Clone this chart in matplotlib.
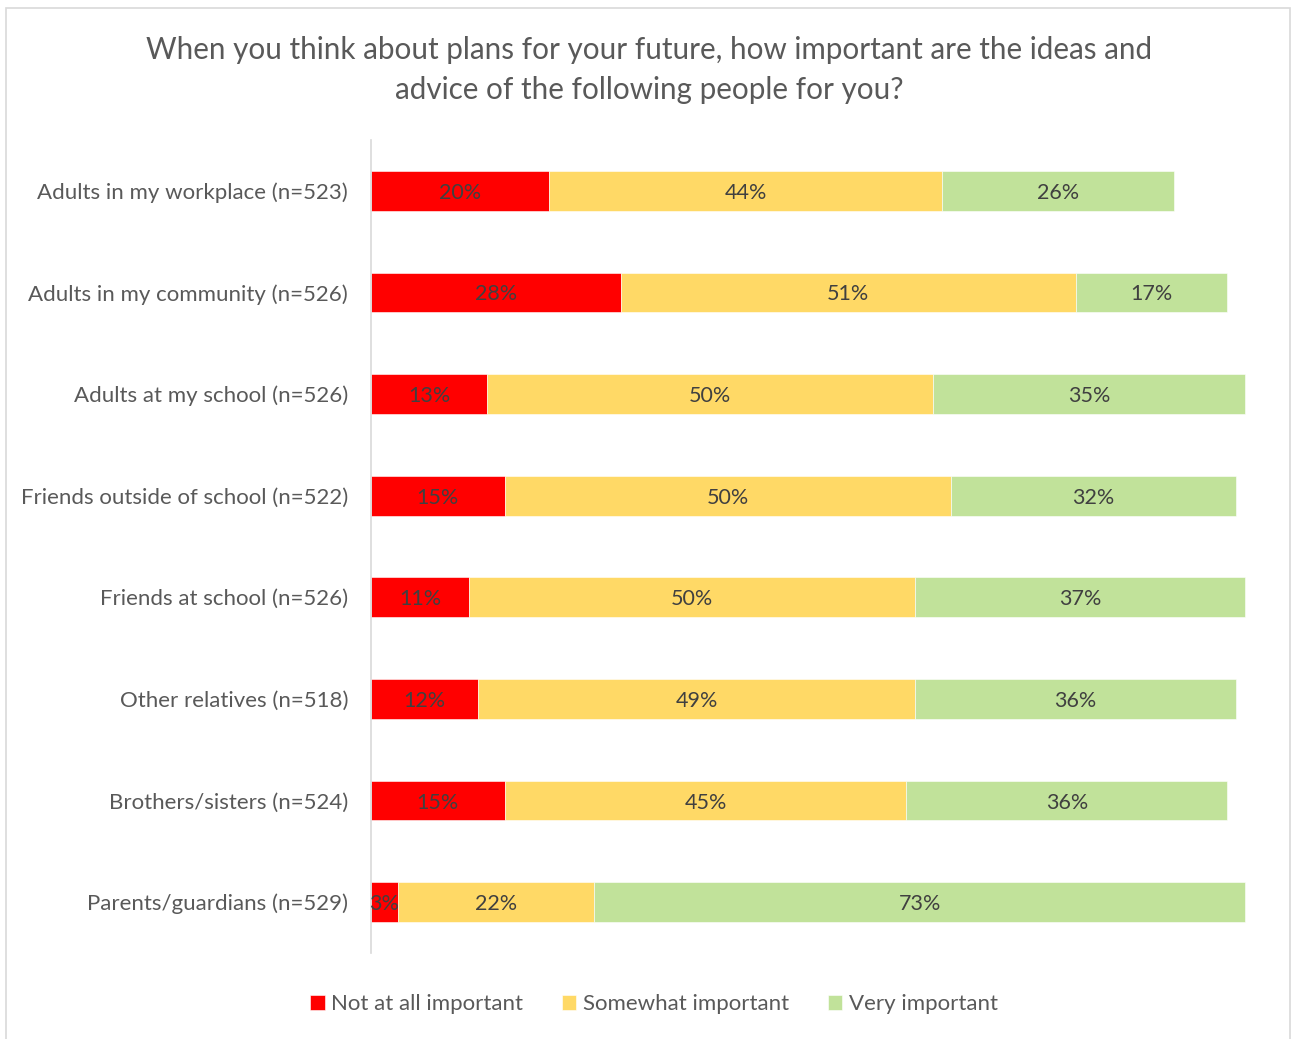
import matplotlib
matplotlib.use("Agg")
import matplotlib.pyplot as plt
from matplotlib.patches import Rectangle
import numpy as np

plt.rcParams['font.family'] = ['Lato', 'DejaVu Sans']

categories = [
    "Adults in my workplace (n=523)",
    "Adults in my community (n=526)",
    "Adults at my school (n=526)",
    "Friends outside of school (n=522)",
    "Friends at school (n=526)",
    "Other relatives (n=518)",
    "Brothers/sisters (n=524)",
    "Parents/guardians (n=529)",
]
not_at_all = [20, 28, 13, 15, 11, 12, 15, 3]
somewhat = [44, 51, 50, 50, 50, 49, 45, 22]
very = [26, 17, 35, 32, 37, 36, 36, 73]
series_names = ["Not at all important", "Somewhat important", "Very important"]
colors = ["#FF0000", "#FFD966", "#C1E29A"]

W, H = 1291, 1039
fig = plt.figure(figsize=(W / 100, H / 100), dpi=100)
fig.patch.set_facecolor("white")

# outer chart border (bottom edge runs off the canvas)
fig.patches.append(Rectangle((6 / W, -10 / H), (1290 - 6) / W, (H - 8 + 10) / H,
                             transform=fig.transFigure, fill=False,
                             edgecolor="#D9D9D9", linewidth=1.2))

ax_left, ax_right = 371, 1263
ax_top, ax_bottom = 140, 953
ax = fig.add_axes([ax_left / W, 1 - ax_bottom / H,
                   (ax_right - ax_left) / W, (ax_bottom - ax_top) / H])

y = np.arange(len(categories))
series = [not_at_all, somewhat, very]
left = np.zeros(len(categories))
for vals, col, name in zip(series, colors, series_names):
    vals = np.array(vals, dtype=float)
    ax.barh(y, vals, left=left, height=0.39, color=col, label=name,
            edgecolor="white", linewidth=0.4)
    for yi, l, v in zip(y, left, vals):
        ax.text(l + v / 2, yi + 0.02, f"{int(v)}%", ha="center", va="center",
                fontsize=15.5, color="#404040")
    left += vals

ax.set_xlim(0, 100)
ax.set_ylim(len(categories) - 0.5, -0.5)
ax.set_xticks([])
ax.set_yticks(y)
ax.set_yticklabels(categories, fontsize=16, color="#595959")
ax.tick_params(axis="y", length=0, pad=16.5)
for s in ["top", "right", "bottom"]:
    ax.spines[s].set_visible(False)
ax.spines["left"].set_color("#D9D9D9")
ax.spines["left"].set_linewidth(1.2)

fig.text(649 / W, 1 - 70 / H,
         "When you think about plans for your future, how important are the ideas and\nadvice of the following people for you?",
         ha="center", va="center", fontsize=21.3, color="#595959", linespacing=1.5)

handles, labels = ax.get_legend_handles_labels()
fig.legend(handles, labels, loc="center", bbox_to_anchor=(654 / W, 1 - 1004 / H),
           ncol=3, frameon=False, fontsize=16, labelcolor="#595959",
           handlelength=0.65, handleheight=0.65, handletextpad=0.3, columnspacing=1.73)

fig.savefig("out.png", dpi=100, facecolor="white")
